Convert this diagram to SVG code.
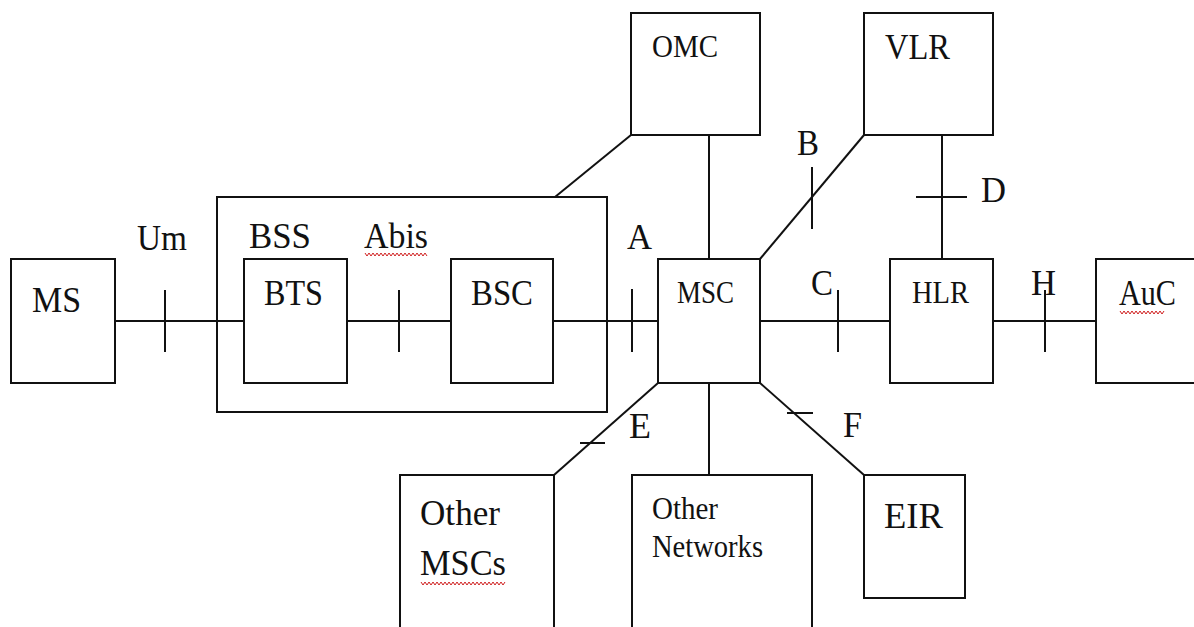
<svg xmlns="http://www.w3.org/2000/svg" width="1194" height="627" viewBox="0 0 1194 627" font-family="Times New Roman">
<style>
.box{fill:none;stroke:#111;stroke-width:2}
.ln{stroke:#111;stroke-width:2;fill:none}
text{fill:#111}
.t{font-size:35px}
.s{font-size:32px}
.sq{fill:none;stroke:#d02020;stroke-width:1}
</style>
<rect width="1194" height="627" fill="#fff"/>
<g id="connectors">
<line class="ln" x1="115" y1="321" x2="244" y2="321"/>
<line class="ln" x1="165" y1="290" x2="165" y2="352"/>
<line class="ln" x1="347" y1="321" x2="451" y2="321"/>
<line class="ln" x1="399" y1="290" x2="399" y2="352"/>
<line class="ln" x1="553" y1="321" x2="658" y2="321"/>
<line class="ln" x1="632" y1="289" x2="632" y2="352"/>
<line class="ln" x1="631" y1="135" x2="555" y2="197"/>
<line class="ln" x1="709" y1="135" x2="709" y2="259"/>
<line class="ln" x1="864" y1="135" x2="760" y2="259"/>
<line class="ln" x1="812" y1="167" x2="812" y2="229"/>
<line class="ln" x1="942" y1="135" x2="942" y2="259"/>
<line class="ln" x1="916" y1="197" x2="967" y2="197"/>
<line class="ln" x1="760" y1="321" x2="890" y2="321"/>
<line class="ln" x1="838" y1="290" x2="838" y2="352"/>
<line class="ln" x1="993" y1="321" x2="1096" y2="321"/>
<line class="ln" x1="1045" y1="290" x2="1045" y2="352"/>
<line class="ln" x1="658" y1="383" x2="554" y2="475"/>
<line class="ln" x1="580" y1="443" x2="605" y2="443"/>
<line class="ln" x1="709" y1="383" x2="709" y2="475"/>
<line class="ln" x1="760" y1="383" x2="864" y2="475"/>
<line class="ln" x1="787" y1="413" x2="813" y2="413"/>
</g>
<g id="labels">
<text class="t" x="137" y="250" textLength="50" lengthAdjust="spacingAndGlyphs">Um</text>
<text class="t" x="364" y="248" textLength="64" lengthAdjust="spacingAndGlyphs">Abis</text>
<polyline class="sq" points="365,253 367,256 369,253 371,256 373,253 375,256 377,253 379,256 381,253 383,256 385,253 387,256 389,253 391,256 393,253 395,256 397,253 399,256 401,253 403,256 405,253 407,256 409,253 411,256 413,253 415,256 417,253 419,256 421,253 423,256 425,253 427,256"/>
<text class="t" x="627" y="249" textLength="25" lengthAdjust="spacingAndGlyphs">A</text>
<text class="t" x="797" y="155" textLength="22" lengthAdjust="spacingAndGlyphs">B</text>
<text class="t" x="811" y="295" textLength="22" lengthAdjust="spacingAndGlyphs">C</text>
<text class="t" x="981" y="202" textLength="25" lengthAdjust="spacingAndGlyphs">D</text>
<text class="t" x="1031" y="295" textLength="25" lengthAdjust="spacingAndGlyphs">H</text>
<text class="t" x="629" y="438" textLength="22" lengthAdjust="spacingAndGlyphs">E</text>
<text class="t" x="843" y="437" textLength="19" lengthAdjust="spacingAndGlyphs">F</text>
</g>
<g id="nodes">
<g id="MS"><rect class="box" x="11" y="259" width="104" height="124"/><text class="t" x="32" y="312" font-size="37" textLength="49" lengthAdjust="spacingAndGlyphs">MS</text></g>
<g id="BSS"><rect class="box" x="217" y="197" width="390" height="215"/><text class="t" x="249" y="248" textLength="62" lengthAdjust="spacingAndGlyphs">BSS</text></g>
<g id="BTS"><rect class="box" x="244" y="259" width="103" height="124"/><text class="t" x="264" y="305" textLength="59" lengthAdjust="spacingAndGlyphs">BTS</text></g>
<g id="BSC"><rect class="box" x="451" y="259" width="102" height="124"/><text class="t" x="471" y="305" textLength="62" lengthAdjust="spacingAndGlyphs">BSC</text></g>
<g id="OMC"><rect class="box" x="631" y="13" width="129" height="122"/><text class="s" x="652" y="57" font-size="33" textLength="66" lengthAdjust="spacingAndGlyphs">OMC</text></g>
<g id="VLR"><rect class="box" x="864" y="13" width="129" height="122"/><text class="t" x="885" y="59" font-size="36" textLength="65" lengthAdjust="spacingAndGlyphs">VLR</text></g>
<g id="MSC"><rect class="box" x="658" y="259" width="102" height="124"/><text class="s" x="677" y="303" textLength="57" lengthAdjust="spacingAndGlyphs">MSC</text></g>
<g id="HLR"><rect class="box" x="890" y="259" width="103" height="124"/><text class="s" x="912" y="303" font-size="28" textLength="57" lengthAdjust="spacingAndGlyphs">HLR</text></g>
<g id="AuC"><rect class="box" x="1096" y="259" width="120" height="124"/><text class="t" x="1119" y="305" textLength="57" lengthAdjust="spacingAndGlyphs">AuC</text>
<polyline class="sq" points="1120,311 1122,314 1124,311 1126,314 1128,311 1130,314 1132,311 1134,314 1136,311 1138,314 1140,311 1142,314 1144,311 1146,314 1148,311 1150,314 1152,311 1154,314 1156,311 1158,314 1160,311 1162,314 1164,311"/></g>
<g id="OtherMSCs"><rect class="box" x="400" y="475" width="154" height="170"/><text class="t" x="420" y="525" font-size="36" textLength="80" lengthAdjust="spacingAndGlyphs">Other</text><text class="t" x="420" y="575" font-size="36" textLength="86" lengthAdjust="spacingAndGlyphs">MSCs</text>
<polyline class="sq" points="421,582 423,585 425,582 427,585 429,582 431,585 433,582 435,585 437,582 439,585 441,582 443,585 445,582 447,585 449,582 451,585 453,582 455,585 457,582 459,585 461,582 463,585 465,582 467,585 469,582 471,585 473,582 475,585 477,582 479,585 481,582 483,585 485,582 487,585 489,582 491,585 493,582 495,585 497,582 499,585 501,582 503,585 505,582"/></g>
<g id="OtherNetworks"><rect class="box" x="632" y="475" width="180" height="170"/><text class="s" x="652" y="519" font-size="31" textLength="66" lengthAdjust="spacingAndGlyphs">Other</text><text class="s" x="652" y="557" font-size="31" textLength="111" lengthAdjust="spacingAndGlyphs">Networks</text></g>
<g id="EIR"><rect class="box" x="864" y="475" width="101" height="123"/><text class="t" x="884" y="528" font-size="36" textLength="59" lengthAdjust="spacingAndGlyphs">EIR</text></g>
</g>
</svg>
